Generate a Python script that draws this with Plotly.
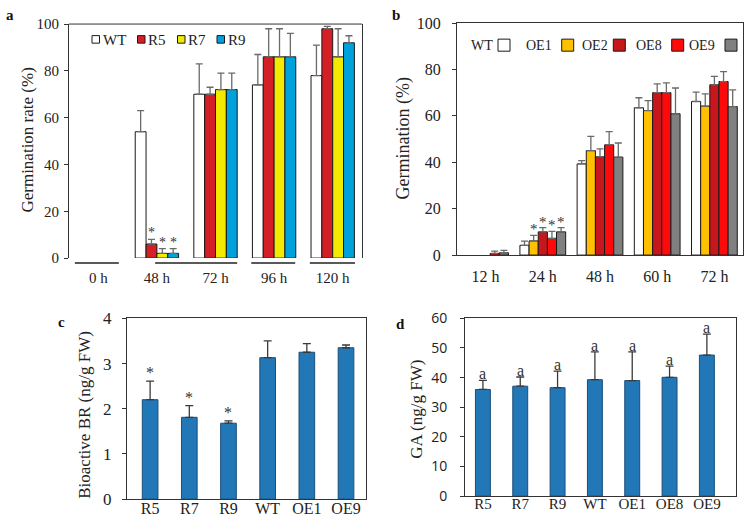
import plotly.graph_objects as go

# ---------------- data ----------------
a_times = ["0 h", "48 h", "72 h", "96 h", "120 h"]
a_series = ["WT", "R5", "R7", "R9"]
a_WT = [None, 54, 70, 74, 78]
a_WT_err = [0, 9, 13, 13, 13]
a_R5 = [None, 6, 70, 86, 98]
a_R5_err = [0, 2, 3, 12, 1]
a_R7 = [None, 2, 72, 86, 86]
a_R7_err = [0, 2, 7, 12, 12]
a_R9 = [None, 2, 72, 86, 92]
a_R9_err = [0, 2, 7, 10, 3]
a_colors = ["#ffffff", "#d51f26", "#f2ea00", "#00a2de"]
a_star = {"R5": "48 h", "R7": "48 h", "R9": "48 h"}

b_times = ["12 h", "24 h", "48 h", "60 h", "72 h"]
b_series = ["WT", "OE1", "OE2", "OE8", "OE9"]
b_WT = [None, 4.2, 39.3, 63.5, 66.2]
b_WT_err = [0, 1.8, 1.4, 4.3, 4.0]
b_OE1 = [None, 6.1, 45, 62.3, 64.2]
b_OE1_err = [0, 2.4, 6.2, 4.3, 5.3]
b_OE2 = [None, 10, 42.4, 70, 73.4]
b_OE2_err = [0, 1.8, 3.4, 3.8, 3.6]
b_OE8 = [0.7, 7.2, 47.5, 70, 74.8]
b_OE8_err = [1.0, 3.0, 5.7, 4.2, 4.3]
b_OE9 = [1.0, 10, 42.2, 60.9, 64]
b_OE9_err = [1.0, 1.8, 6.1, 11.1, 7.2]
b_colors = ["#ffffff", "#ffc000", "#c8161d", "#ff0a0a", "#808080"]
b_star = {"OE1": "24 h", "OE2": "24 h", "OE8": "24 h", "OE9": "24 h"}

c_lines = ["R5", "R7", "R9", "WT", "OE1", "OE9"]
c_BR = [2.2, 1.81, 1.68, 3.13, 3.25, 3.35]
c_BR_err = [0.41, 0.26, 0.05, 0.37, 0.19, 0.06]
c_star = ["R5", "R7", "R9"]

d_lines = ["R5", "R7", "R9", "WT", "OE1", "OE8", "OE9"]
d_GA = [36, 37.1, 36.6, 39.3, 39, 40.1, 47.6]
d_GA_err = [3.1, 3.1, 5.6, 9.4, 9.7, 3.8, 7.1]
d_letters = ["a", "a", "a", "a", "a", "a", "a"]

# ---------------- figure ----------------
W, H = 755, 525
SERIF = "Liberation Serif, Times New Roman, serif"
SANS = "Open Sans, Noto Sans, sans-serif"
AX = "#333333"

def px(x):
    return x / W

def py(y):
    # vertical placement helper (calibrated against the rendered page)
    yc = (y - 10.0) / 0.9577
    return 1 - yc / H

fig = go.Figure()

annotations = []
shapes = []

# ----- panel a -----
a_vals = [a_WT, a_R5, a_R7, a_R9]
a_errs = [a_WT_err, a_R5_err, a_R7_err, a_R9_err]
a_group = 0.74
a_w = a_group / len(a_series)
for k, name in enumerate(a_series):
    fig.add_trace(go.Bar(
        x=a_times, y=a_vals[k], name=name, xaxis="x", yaxis="y",
        width=a_w, offset=-a_group / 2 + k * a_w,
        marker=dict(color=a_colors[k], line=dict(color="#1a1a1a", width=1)),
        error_y=dict(type="data", array=a_errs[k], arrayminus=[0] * len(a_times),
                     symmetric=False, color="#6a6a6a", thickness=1.3, width=3.5),
        showlegend=False))
    if name in a_star:
        i = a_times.index(a_star[name])
        yv = a_vals[k][i] + a_errs[k][i]
        annotations.append(dict(x=i - a_group / 2 + (k + 0.5) * a_w, y=yv, xref="x", yref="y",
                                text="*", showarrow=False, yanchor="bottom", yshift=-3,
                                font=dict(family=SERIF, size=14, color="#333333")))

# ----- panel b -----
b_vals = [b_WT, b_OE1, b_OE2, b_OE8, b_OE9]
b_errs = [b_WT_err, b_OE1_err, b_OE2_err, b_OE8_err, b_OE9_err]
b_group = 0.80
b_w = b_group / len(b_series)
for k, name in enumerate(b_series):
    fig.add_trace(go.Bar(
        x=b_times, y=b_vals[k], name=name, xaxis="x2", yaxis="y2",
        width=b_w, offset=-b_group / 2 + k * b_w,
        marker=dict(color=b_colors[k], line=dict(color="#1a1a1a", width=1)),
        error_y=dict(type="data", array=b_errs[k], arrayminus=[0] * len(b_times),
                     symmetric=False, color="#6a6a6a", thickness=1.3, width=3.5),
        showlegend=False))
    if name in b_star:
        i = b_times.index(b_star[name])
        yv = b_vals[k][i] + b_errs[k][i]
        annotations.append(dict(x=i - b_group / 2 + (k + 0.5) * b_w, y=yv, xref="x2", yref="y2",
                                text="*", showarrow=False, yanchor="bottom", yshift=-4,
                                font=dict(family=SERIF, size=15, color="#333333")))

# ----- panel c -----
fig.add_trace(go.Bar(
    x=c_lines, y=c_BR, xaxis="x3", yaxis="y3", width=0.4, offset=-0.2,
    marker=dict(color="#2277b6", line=dict(color="#1b4e78", width=1)),
    error_y=dict(type="data", array=c_BR_err, arrayminus=[0] * len(c_lines),
                 symmetric=False, color="#3a3a3a", thickness=1.3, width=4),
    showlegend=False))
for name in c_star:
    i = c_lines.index(name)
    annotations.append(dict(x=i, y=c_BR[i] + c_BR_err[i], xref="x3", yref="y3",
                            text="*", showarrow=False, yanchor="bottom", yshift=-2,
                            font=dict(family=SERIF, size=16, color="#333333")))

# ----- panel d -----
fig.add_trace(go.Bar(
    x=d_lines, y=d_GA, xaxis="x4", yaxis="y4", width=0.4, offset=-0.2,
    marker=dict(color="#2277b6", line=dict(color="#1b4e78", width=1)),
    error_y=dict(type="data", array=d_GA_err, arrayminus=[0] * len(d_lines),
                 symmetric=False, color="#3a3a3a", thickness=1.3, width=4),
    showlegend=False))
for i, lab in enumerate(d_letters):
    annotations.append(dict(x=i, y=d_GA[i] + d_GA_err[i], xref="x4", yref="y4",
                            text=lab, showarrow=False, yanchor="bottom", yshift=-4,
                            font=dict(family=SERIF, size=16, color="#333333")))

# ----- axes -----
def yax(domain, rng, dtick, anchor, tfont, standoff):
    return dict(domain=domain, range=rng, dtick=dtick, anchor=anchor,
                showline=True, linecolor=AX, linewidth=1, mirror=True,
                ticks="outside", ticklen=4, tickcolor=AX, showgrid=False, zeroline=False,
                tickfont=tfont, ticklabelstandoff=standoff, fixedrange=True)

def xax(domain, cats, rng, anchor, tfont, showline, standoff):
    return dict(domain=domain, type="category", categoryarray=cats, categoryorder="array",
                range=rng, anchor=anchor,
                showline=showline, linecolor=AX, linewidth=1, mirror=showline,
                ticks="", showgrid=False, zeroline=False, tickfont=tfont,
                ticklabelstandoff=standoff, fixedrange=True)

fa = dict(family=SERIF, size=15, color="#222")
fig.update_layout(
    xaxis=xax([px(69), px(362)], a_times, [-0.5, 4.5], "y", fa, False, 9),
    yaxis=yax([py(257), py(24)], [0, 100], 20, "x", fa, 2),
    xaxis2=xax([px(457), px(743)], b_times, [-0.5, 4.5], "y2", dict(family=SERIF, size=16, color="#222"), True, 7),
    yaxis2=yax([py(254), py(23)], [0, 100], 20, "x2", dict(family=SERIF, size=16, color="#222"), 8),
    xaxis3=xax([px(127), px(366)], c_lines, [-0.59, 5.51], "y3", dict(family=SERIF, size=16, color="#222"), True, -5),
    yaxis3=yax([py(497), py(317)], [0, 4], 1, "x3", dict(family=SERIF, size=17, color="#222"), 7),
    xaxis4=xax([px(465), px(736)], d_lines, [-0.48, 6.78], "y4", dict(family=SERIF, size=15, color="#222"), True, -6),
    yaxis4=yax([py(494), py(317)], [0, 60], 10, "x4", dict(family=SANS, size=14, color="#222"), 10),
)

# panel a top frame line
shapes.append(dict(type="line", xref="x domain", yref="y domain", x0=0, x1=1, y0=1, y1=1,
                   line=dict(color=AX, width=1)))
# panel a group underlines (in category units)
for x0, x1 in [(-0.40, 0.35), (0.97, 2.37), (2.61, 3.36), (3.61, 4.38)]:
    shapes.append(dict(type="line", xref="x", yref="paper", x0=x0, x1=x1,
                       y0=py(262), y1=py(262), line=dict(color="#222", width=1.5)))

# ----- legends (manual) -----
a_leg_sq = [92, 137.5, 177.5, 217]
for k, name in enumerate(a_series):
    x0 = a_leg_sq[k]
    shapes.append(dict(type="rect", xref="paper", yref="paper", x0=px(x0), x1=px(x0 + 7.5),
                       y0=py(43), y1=py(35.5), fillcolor=a_colors[k],
                       line=dict(color="#1a1a1a", width=1)))
    annotations.append(dict(x=px(x0 + 8.5), y=py(39.5), xref="paper", yref="paper", text=name,
                            showarrow=False, xanchor="left", yanchor="middle",
                            font=dict(family=SERIF, size=15, color="#222")))

b_leg_sq = [498, 561.7, 613.3, 671.7, 725]
for k, name in enumerate(b_series):
    x0 = b_leg_sq[k]
    shapes.append(dict(type="rect", xref="paper", yref="paper", x0=px(x0), x1=px(x0 + 12),
                       y0=py(51), y1=py(39), fillcolor=b_colors[k],
                       line=dict(color="#1a1a1a", width=1)))
    annotations.append(dict(x=px(x0 - 3 if k in (0, 2) else x0 - 8), y=py(45.5), xref="paper", yref="paper",
                            text=name, showarrow=False, xanchor="right", yanchor="middle",
                            font=dict(family=SERIF, size=14, color="#222")))

# ----- axis titles -----
for (x, y, t, s) in [(28, 140, "Germination rate (%)", 17),
                     (404, 138, "Germination (%)", 18),
                     (85, 413, "Bioactive BR (ng/g FW)", 17),
                     (417, 408, "GA (ng/g FW)", 17)]:
    annotations.append(dict(x=px(x), y=py(y), xref="paper", yref="paper", text=t, textangle=-90,
                            showarrow=False, xanchor="center", yanchor="middle",
                            font=dict(family=SERIF, size=s, color="#222")))

# ----- panel letters -----
for (x, y, t) in [(10, 15, "a"), (396, 15, "b"), (62, 321, "c"), (400, 323, "d")]:
    annotations.append(dict(x=px(x), y=py(y), xref="paper", yref="paper", text="<b>%s</b>" % t,
                            showarrow=False, xanchor="center", yanchor="middle",
                            font=dict(family=SERIF, size=15, color="#111")))

fig.update_layout(
    width=W, height=H, margin=dict(l=0, r=0, t=0, b=0),
    paper_bgcolor="white", plot_bgcolor="white",
    barmode="overlay", showlegend=False,
    annotations=annotations, shapes=shapes,
)

post = (
    "document.documentElement.style.margin='0';"
    "document.body.style.margin='0';document.body.style.padding='0';"
    "document.body.style.overflow='hidden';"
    "var gd=document.getElementsByClassName('plotly-graph-div')[0];"
    "gd.style.position='fixed';gd.style.top='0px';gd.style.left='0px';"
)
fig.write_html("out.html", config={"responsive": False, "displayModeBar": False},
               post_script=post)
